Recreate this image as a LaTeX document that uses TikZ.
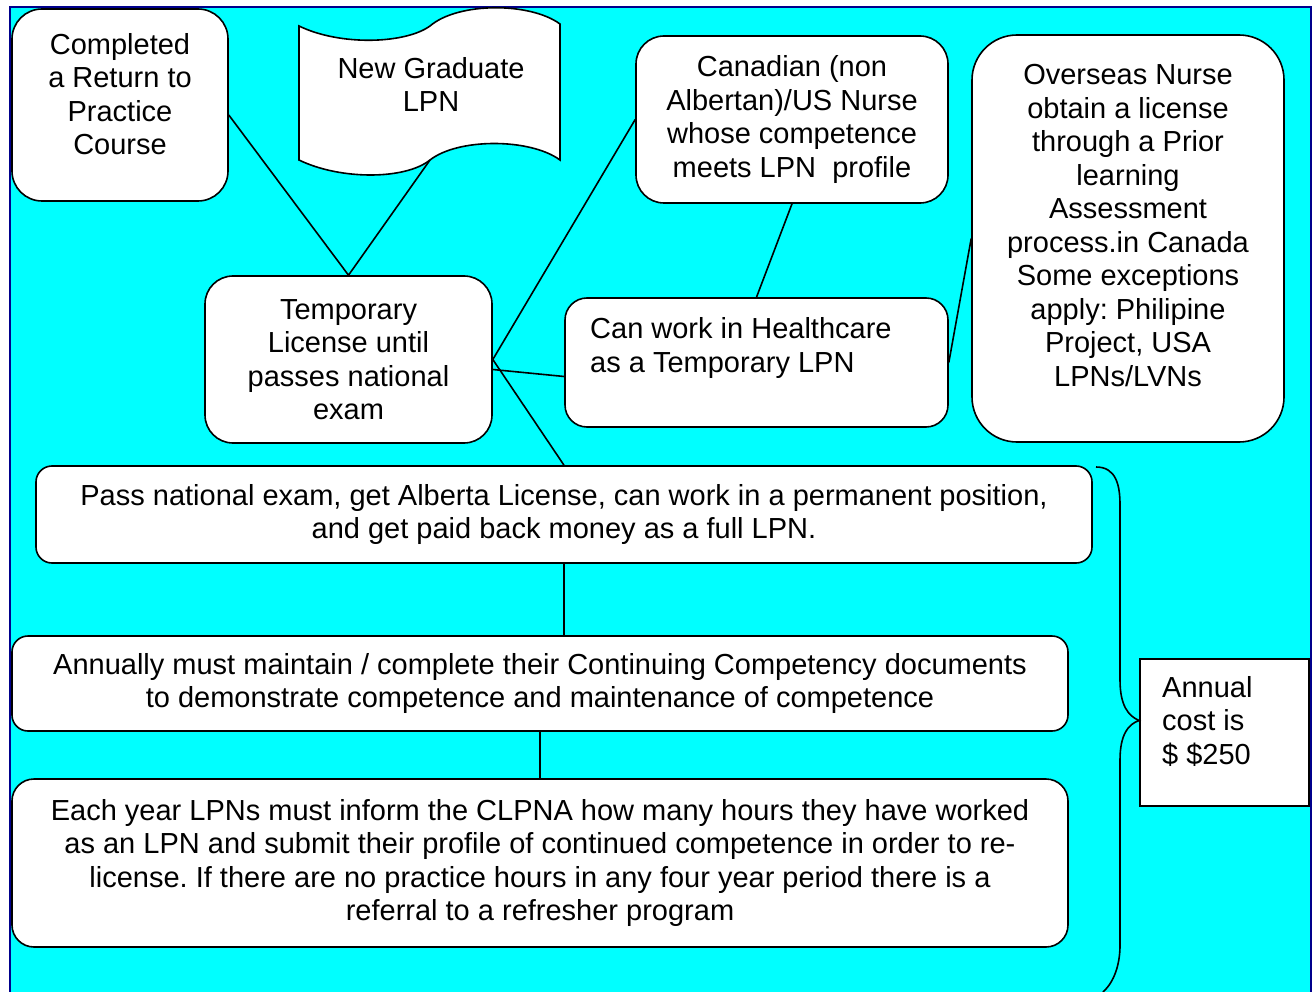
\documentclass[tikz,border=0pt]{standalone}
\usepackage{fontspec}
\setmainfont{Liberation Sans}
\frenchspacing
\definecolor{frameblue}{RGB}{0,0,140}
\definecolor{sheetcyan}{RGB}{0,255,255}
\tikzset{
  box/.style={draw,fill=white,line width=1.6pt,rounded corners=#1,inner sep=0pt},
  box/.default=28pt,
  txt/.style={font=\fontsize{29}{33.5}\selectfont,align=center,inner sep=0pt},
  link/.style={line width=1.6pt}
}
\begin{document}
\begin{tikzpicture}[x=1pt,y=-1pt]
		\useasboundingbox (0,0) rectangle (1316,992);
		\fill[sheetcyan] (10,7) rectangle (1311,992);
		\draw[frameblue,line width=2pt] (10,992) -- (10,7) -- (1311,7) -- (1311,992);
		% boxes
		\node[box=30pt,minimum width=216pt,minimum height=192pt] (ret) at (120,105) {};
		\node[txt] (ret-t) at ([yshift=11pt]ret.center) {Completed\\a Return to\\Practice\\Course};
		\draw[fill=white,line width=1.6pt] (299,26) .. controls (340,46) and (405,44) .. (430,26) .. controls (458,2) and (530,2) .. (560,24) -- (560,160) .. controls (530,138) and (458,138) .. (430,160) .. controls (405,180) and (340,180) .. (299,160) -- cycle;
		\node[txt] (grad) at (431,84.5) {New Graduate\\LPN};
		\coordinate (grad-s) at (430,160);
		\node[box,txt,minimum width=312pt,minimum height=167pt] (canada) at (792,119.5) {Canadian (non\\Albertan)/US Nurse\\whose competence\\meets LPN~ profile};
		\node[box=45pt,minimum width=312pt,minimum height=407pt] (abroad) at (1128,238.5) {};
		\node[txt] (abroad-t) at ([yshift=13pt]abroad.center) {Overseas Nurse\\obtain a license\\through a Prior\\learning\\Assessment\\process.in Canada\\Some exceptions\\apply: Philipine\\Project, USA\\LPNs/LVNs};
		\node[box,txt,minimum width=287pt,minimum height=167pt] (temp) at (348.5,359.5) {Temporary\\License until\\passes national\\exam};
		\node[box=22pt,minimum width=383pt,minimum height=129pt] (work) at (756.5,362.5) {};
		\node[txt,align=left,anchor=west] (work-t) at (590,348) {Can work in Healthcare\\as a Temporary LPN};
		\node[box=16pt,txt,minimum width=1056pt,minimum height=97pt] (pass) at (564,514.5) {Pass national exam, get Alberta License, can work in a permanent position,\\and get paid back money as a full LPN.};
		\node[box=16pt,txt,minimum width=1056pt,minimum height=95pt] (annual) at (540,683.5) {Annually must maintain / complete their Continuing Competency documents\\to demonstrate competence and maintenance of competence};
		\node[box=22pt,txt,minimum width=1056pt,minimum height=168pt] (hours) at (540,863) {Each year LPNs must inform the CLPNA how many hours they have worked\\as an LPN and submit their profile of continued competence in order to re-\\license. If there are no practice hours in any four year period there is a\\referral to a refresher program};
		\node[draw,fill=white,line width=1.6pt,minimum width=169pt,minimum height=147pt] (cost) at (1224.5,732.5) {};
		\node[txt,align=left,anchor=west] (cost-t) at (1162,721) {Annual\\cost is\\\$ \$250};
		% connectors
		\draw[link] ([yshift=-10pt]ret.east) -- (temp.north) -- (grad-s);
		\draw[link] (temp.east) -- (canada.west);
		\draw[link] ([yshift=-10pt]temp.east) -- ([yshift=-14pt]work.west);
		\draw[link] (temp.east) -- (pass.north);
		\draw[link] (canada.south) -- (work.north);
		\draw[link] (work.east) -- (abroad.west);
		\draw[link] (pass.south) -- (pass.south |- annual.north);
		\draw[link] (annual.south) -- (hours.north);
		% brace
		\coordinate (tip) at ([yshift=12pt]cost.west);
		\draw[link] (1096,467) .. controls (1116,467) and (1120,485) .. (1120,505) -- (1120,680) .. controls (1120,705) and (1128,716) .. (tip) .. controls (1128,724) and (1120,735) .. (1120,760) -- (1120,945) .. controls (1120,965) and (1114,982) .. (1103,992);
		\end{tikzpicture}
\end{document}
